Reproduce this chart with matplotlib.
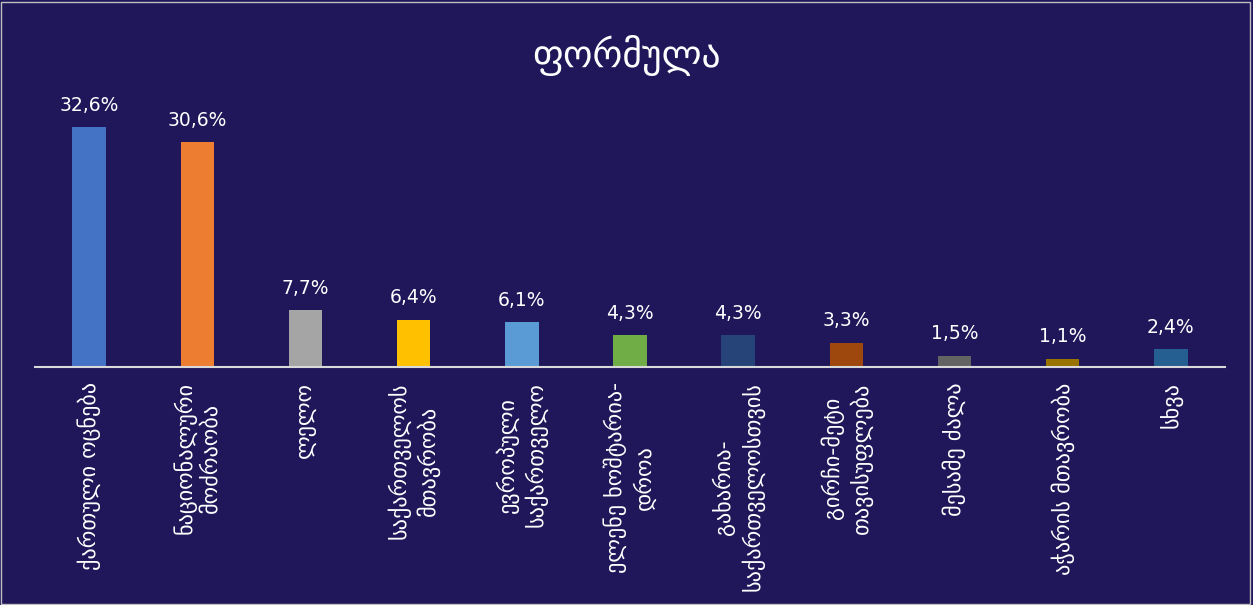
import numpy as np
import matplotlib.pyplot as plt

title = 'ფორმულა'
categories = ['ქართული ოცნება', 'ნაციონალური\nმოძრაობა', 'ლელო', 'საქართველოს\nმთავრობა',
              'ევროპული\nსაქართველო', 'ელენე ხოშტარია-\nდროა', 'გახარია-\nსაქართველოსთვის',
              'გირჩი-მეტი\nთავისუფლება', 'მესამე ძალა', 'აჭარის მთავრობა', 'სხვა']
values = [32.6, 30.6, 7.7, 6.4, 6.1, 4.3, 4.3, 3.3, 1.5, 1.1, 2.4]
colors = ['#4472C4', '#ED7D31', '#A5A5A5', '#FFC000', '#5B9BD5', '#70AD47',
          '#264478', '#9E480E', '#636363', '#997300', '#255E91']

bg = '#20175A'
fig = plt.figure(figsize=(12.53, 6.05), dpi=100, facecolor=bg)
ax = fig.add_axes([35 / 1253, 238 / 605, 1190 / 1253, 272 / 605])
ax.set_facecolor(bg)

x = np.arange(len(values))
bars = ax.bar(x, values, width=0.31, color=colors)
for xi, v in zip(x, values):
    ax.text(xi, v + 1.7, ('%.1f%%' % v).replace('.', ','), ha='center', va='bottom',
            color='white', fontsize=13.5)

ax.set_xlim(-0.5, len(values) - 0.5)
ax.set_ylim(0, 37)
ax.set_yticks([])
ax.set_xticks(x)
ax.set_xticklabels(categories, rotation=90, va='top', ha='center', color='white',
                   fontsize=16, multialignment='center', linespacing=1.3)
ax.tick_params(axis='x', length=0, pad=11)
for s in ['top', 'left', 'right']:
    ax.spines[s].set_visible(False)
ax.spines['bottom'].set_color('#D9D9D9')
ax.spines['bottom'].set_linewidth(1.5)

fig.text(0.5, 1 - 55 / 605, title, ha='center', va='center', color='white', fontsize=27)

# thin frame around the picture
fig.patches.append(plt.Rectangle((0.001, 0.002), 0.997, 0.995, transform=fig.transFigure,
                                 fill=False, edgecolor='#BFBFBF', linewidth=1))

fig.savefig('out.png', dpi=100, facecolor=bg)
